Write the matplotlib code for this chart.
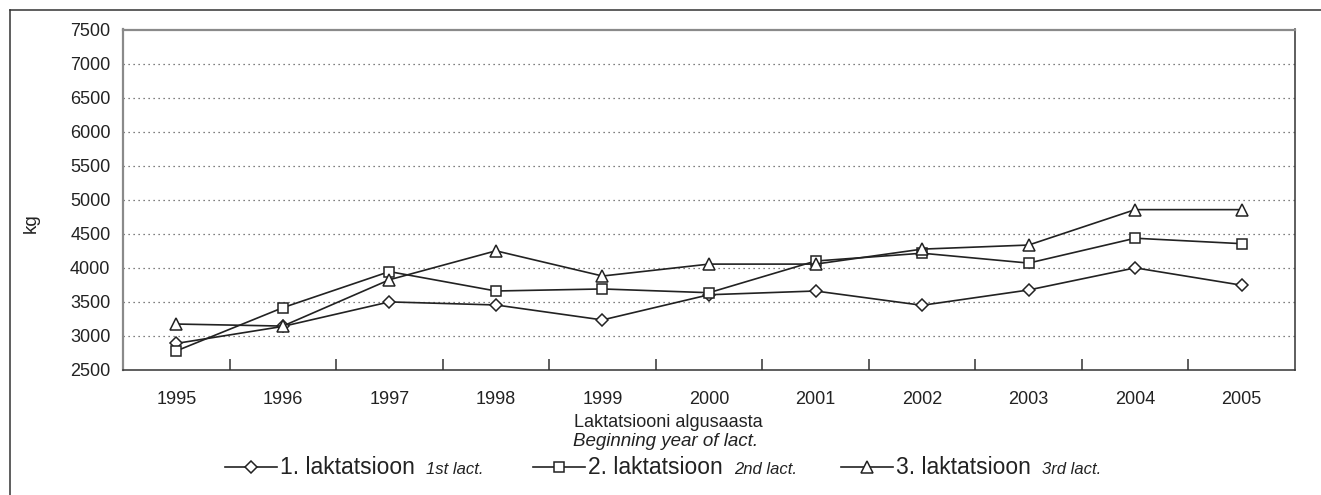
"""
Milk yield by lactation number and beginning year of lactation
"""

import numpy as np
import matplotlib
matplotlib.use('Agg')
import matplotlib.pyplot as plt
from matplotlib.lines import Line2D

plt.rcParams['font.family'] = ['Liberation Sans', 'DejaVu Sans']

# Data
years = ['1995', '1996', '1997', '1998', '1999', '2000',
         '2001', '2002', '2003', '2004', '2005']
lact_1 = [2890, 3140, 3500, 3455, 3235, 3605, 3660, 3450, 3675, 4000, 3745]
lact_2 = [2780, 3415, 3945, 3660, 3690, 3635, 4100, 4215, 4070, 4435, 4355]
lact_3 = [3175, 3145, 3825, 4250, 3880, 4055, 4055, 4275, 4335, 4855, 4855]

series_names = ['1. laktatsioon', '2. laktatsioon', '3. laktatsioon']
series_notes = ['1st lact.', '2nd lact.', '3rd lact.']
y_ticks = [2500, 3000, 3500, 4000, 4500, 5000, 5500, 6000, 6500, 7000, 7500]

W, H = 1321, 495


def fx(px):
    return px / W


def fy(py):
    return 1 - py / H


fig = plt.figure(figsize=(W / 100, H / 100), dpi=100)
ax = fig.add_axes([fx(123), fy(370), fx(1295) - fx(123), fy(29.5) - fy(370)])

x = np.arange(len(years))
line_kw = dict(color='#222222', lw=1.2, markerfacecolor='white',
               markeredgecolor='#222222', markeredgewidth=1.1, clip_on=False)
styles = [('D', 5.8), ('s', 6.8), ('^', 8.5)]
for vals, (mk, ms) in zip([lact_1, lact_2, lact_3], styles):
    ax.plot(x, vals, marker=mk, ms=ms, **line_kw)

ax.set_xlim(-0.5, len(years) - 0.5)
ax.set_ylim(2500, 7500)
ax.set_yticks(y_ticks)
ax.tick_params(axis='y', length=0, pad=9, labelsize=13, colors='#222222')
for yv in y_ticks[1:-1]:
    ax.axhline(yv, color='#555555', lw=0.9, ls=(0, (1, 3)), zorder=0)

# category boundary ticks + centred labels
ax.set_xticks(np.arange(0.5, len(years) - 1, 1.0))
ax.set_xticklabels([])
ax.set_xticks(x, minor=True)
ax.set_xticklabels(years, minor=True)
ax.tick_params(axis='x', which='major', direction='in', length=8, width=1.1, color='#333333')
ax.tick_params(axis='x', which='minor', length=0, pad=15, labelsize=13, labelcolor='#222222')

for side in ['left', 'top']:
    ax.spines[side].set_color('#8a8a8a')
    ax.spines[side].set_linewidth(1.6)
for side in ['right', 'bottom']:
    ax.spines[side].set_color('#333333')
    ax.spines[side].set_linewidth(1.1)

fig.text(fx(31), fy(223), 'kg', rotation=90, ha='center', va='center',
         fontsize=13.5, color='#222222')
fig.text(fx(668), fy(427), 'Laktatsiooni algusaasta', ha='center', va='baseline',
         fontsize=13, color='#222222')
fig.text(fx(666), fy(446), 'Beginning year of lact.', ha='center', va='baseline',
         fontsize=13.5, style='italic', color='#222222')

# hand-made legend
renderer = fig.canvas.get_renderer()
leg_x = [225, 533, 841]
leg_y = 467
for i, (name, note, (mk, ms)) in enumerate(zip(series_names, series_notes, styles)):
    x0 = leg_x[i]
    fig.add_artist(Line2D([fx(x0), fx(x0 + 52)], [fy(leg_y), fy(leg_y)],
                          transform=fig.transFigure, color='#222222', lw=1.2))
    fig.add_artist(Line2D([fx(x0 + 26)], [fy(leg_y)], transform=fig.transFigure,
                          marker=mk, ms=ms, markerfacecolor='white',
                          markeredgecolor='#222222', markeredgewidth=1.1))
    t = fig.text(fx(x0 + 55), fy(leg_y + 7), name, ha='left', va='baseline',
                 fontsize=16.5, color='#222222')
    end = t.get_window_extent(renderer).x1
    fig.text(fx(end + 11), fy(leg_y + 7), note, ha='left', va='baseline',
             fontsize=12, style='italic', color='#222222')

# outer frame (left and top edges)
fig.add_artist(Line2D([fx(9.5), fx(9.5)], [fy(10), 0], transform=fig.transFigure,
                      color='#333333', lw=1.1))
fig.add_artist(Line2D([fx(9.5), 1], [fy(10), fy(10)], transform=fig.transFigure,
                      color='#333333', lw=1.1))

fig.savefig('out.png', dpi=100)
